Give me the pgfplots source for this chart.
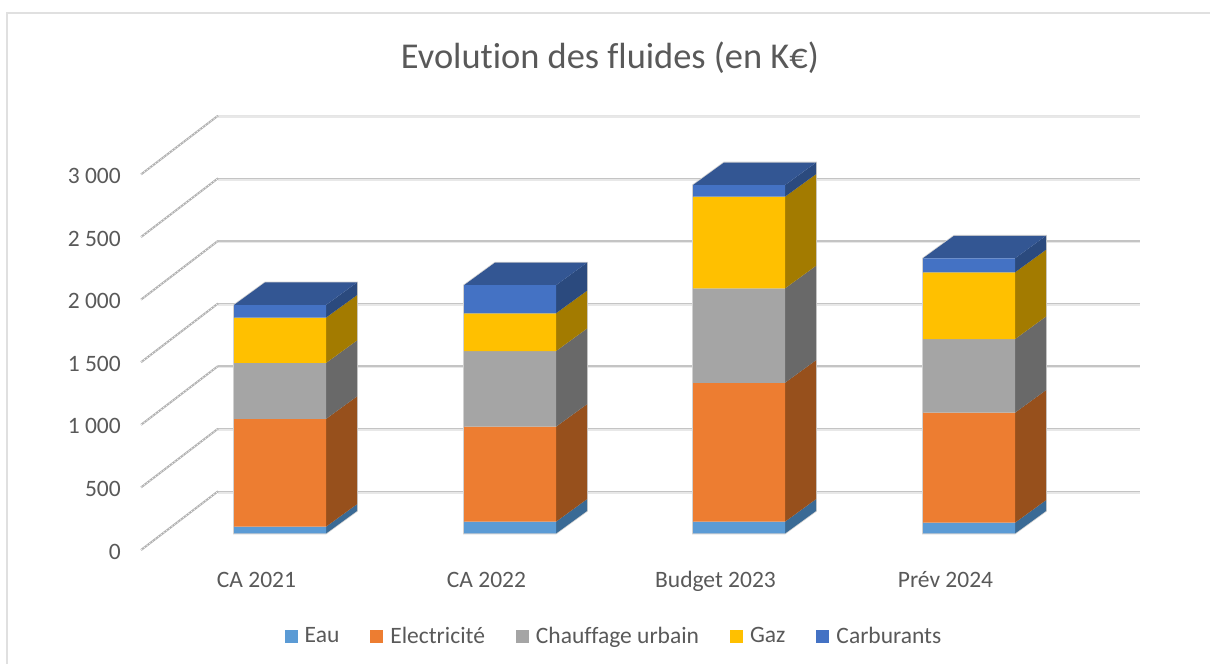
\documentclass[border=0pt]{standalone}
\usepackage{pgfplots}
\pgfplotsset{compat=1.18}
\usepackage{pgfplotstable}
\usepackage{fontspec}
\setmainfont[Ligatures={NoCommon}]{Carlito}
\definecolor{cEau}{HTML}{5B9BD5}
\definecolor{cEle}{HTML}{ED7D31}
\definecolor{cCha}{HTML}{A5A5A5}
\definecolor{cGaz}{HTML}{FFC000}
\definecolor{cCar}{HTML}{4472C4}
\definecolor{sEau}{HTML}{3A6A95}
\definecolor{sEle}{HTML}{97501C}
\definecolor{sCha}{HTML}{696969}
\definecolor{sGaz}{HTML}{A37B00}
\definecolor{sCar}{HTML}{2B4A7E}
\definecolor{tCar}{HTML}{335693}
\definecolor{txt}{HTML}{595959}
\definecolor{gridc}{HTML}{C4C4C4}
\pgfplotstableread{
x    eau  ele  cha  gaz  car
280  54   861  447  362  101
510  94   759  604  302  224
739  94   1110 754  732  93
969  86   879  588  533  112
}\fluides
% depth of a bar: 31 px to the right, 180 value units up
\newcommand\sideface[4]{\addplot[stack plots=false,sharp plot,fill=#4,draw=none,forget plot] coordinates {({#1+46},#2) ({#1+77},{#2+180}) ({#1+77},{#3+180}) ({#1+46},#3)} -- cycle;}
\newcommand\topface[3]{\addplot[stack plots=false,sharp plot,fill=#3,draw=none,forget plot] coordinates {({#1-46},#2) ({#1+46},#2) ({#1+77},{#2+180}) ({#1-15},{#2+180})} -- cycle;}
\newcommand\halo[2]{\addplot[stack plots=false,sharp plot,draw=black!18,line width=1.6pt,fill=white,forget plot] coordinates {({#1-46},0) ({#1+46},0) ({#1+77},180) ({#1+77},{#2+180}) ({#1-15},{#2+180}) ({#1-46},#2)} -- cycle;}
\newcommand\wall[2]{%
  \addplot[stack plots=false,sharp plot,draw=black!9,line width=2pt,forget plot] coordinates {(218,{#1+326}) (1140,{#1+326})};
  \addplot[stack plots=false,sharp plot,draw=#2,line width=1.5pt,forget plot] coordinates {(218,{#1+337}) (1140,{#1+337})};
  \addplot[stack plots=false,sharp plot,draw=black!30,line width=2pt,forget plot] coordinates {(141,{#1-132}) (218,{#1+337})};
  \addplot[stack plots=false,sharp plot,draw=white,line width=.5pt,dash pattern=on 1.5pt off 2pt,forget plot] coordinates {(141,{#1-132}) (218,{#1+337})};
}
\begin{document}
\begin{tikzpicture}
\begin{axis}[
  at={(0,0)},anchor=south west,
  scale only axis,width=1210pt,height=664pt,
  xmin=0,xmax=1210,ymin=-1042.33,ymax=4261.18,
  ybar stacked,bar width=92pt,reverse stacked plots=false,
  axis line style={draw=none},
  tick style={draw=none},
  major tick length=0pt,
  ytick={0,500,1000,1500,2000,2500,3000},
  yticklabels={0,500,1 000,1 500,2 000,2 500,3 000},
  ytick pos=left,
  yticklabel style={anchor=east,xshift=121pt,yshift=-18pt,font=\fontsize{23.5}{24}\selectfont,text=txt,inner sep=0pt},
  xtick={280,510,739,969},
  xticklabels={CA 2021,CA 2022,Budget 2023,Prév 2024},
  xtick pos=bottom,
  xticklabel style={anchor=base,xshift=-23.5pt,yshift=76pt,font=\fontsize{23.5}{24}\selectfont,text=txt,inner sep=0pt},
  title={Evolution des fluides (en K€)},
  title style={at={(610/1210,600/664)},anchor=center,font=\fontsize{36.4}{38}\selectfont,text=txt},
  legend columns=5,
  legend cell align=left,
  legend image code/.code={\fill[#1] (0pt,-6.5pt) rectangle (13pt,6.5pt);},
  legend style={at={(614/1210,28/664)},anchor=center,draw=none,fill=none,
    font=\fontsize{23.5}{24}\selectfont,text=txt,inner sep=0pt,
    /tikz/every even column/.append style={column sep=29pt},
    /tikz/every odd column/.append style={column sep=5pt}},
]
% frame
\addplot[stack plots=false,sharp plot,draw=black!12,line width=1.7pt,forget plot] coordinates {(7,-1042.33) (7,4160) (1210,4160)};
% walls
\wall{0}{gridc}\wall{500}{gridc}\wall{1000}{gridc}\wall{1500}{gridc}\wall{2000}{gridc}\wall{2500}{gridc}\wall{3000}{black!10}
% silhouettes
\halo{280}{1825}\halo{510}{1983}\halo{739}{2783}\halo{969}{2198}
% sides, bottom to top
\sideface{280}{0}{54}{sEau}\sideface{280}{54}{915}{sEle}\sideface{280}{915}{1362}{sCha}\sideface{280}{1362}{1724}{sGaz}\sideface{280}{1724}{1825}{sCar}\topface{280}{1825}{tCar}
\sideface{510}{0}{94}{sEau}\sideface{510}{94}{853}{sEle}\sideface{510}{853}{1457}{sCha}\sideface{510}{1457}{1759}{sGaz}\sideface{510}{1759}{1983}{sCar}\topface{510}{1983}{tCar}
\sideface{739}{0}{94}{sEau}\sideface{739}{94}{1204}{sEle}\sideface{739}{1204}{1958}{sCha}\sideface{739}{1958}{2690}{sGaz}\sideface{739}{2690}{2783}{sCar}\topface{739}{2783}{tCar}
\sideface{969}{0}{86}{sEau}\sideface{969}{86}{965}{sEle}\sideface{969}{965}{1553}{sCha}\sideface{969}{1553}{2086}{sGaz}\sideface{969}{2086}{2198}{sCar}\topface{969}{2198}{tCar}
% fronts
\addplot[fill=cEau,draw=none] table[x=x,y=eau]{\fluides};
\addplot[fill=cEle,draw=none] table[x=x,y=ele]{\fluides};
\addplot[fill=cCha,draw=none] table[x=x,y=cha]{\fluides};
\addplot[fill=cGaz,draw=none] table[x=x,y=gaz]{\fluides};
\addplot[fill=cCar,draw=none] table[x=x,y=car]{\fluides};
\legend{Eau,Electricité,Chauffage urbain,Gaz,Carburants}
\end{axis}
\end{tikzpicture}
\end{document}
